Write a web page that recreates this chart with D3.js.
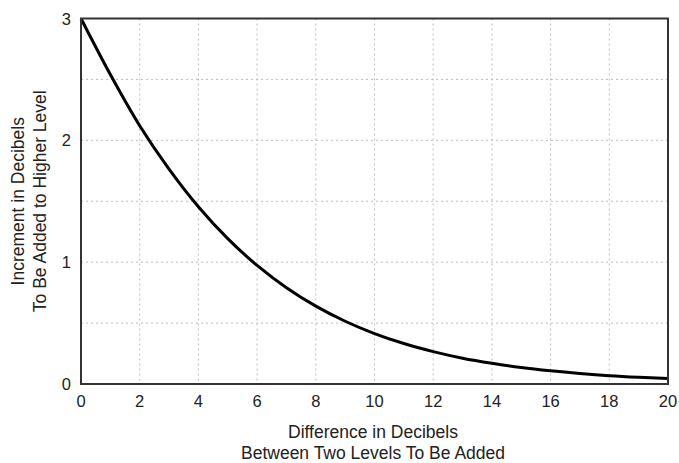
<!DOCTYPE html>
<html>
<head>
<meta charset="utf-8">
<script src="https://cdn.jsdelivr.net/npm/d3@7"></script>
<style>
  body { margin: 0; background: #fff; }
  text { font-family: "Liberation Sans", Arial, sans-serif; fill: #222; }
  .grid { stroke: #bdbdbd; stroke-width: 1; stroke-dasharray: 2,3; }
  .frame { fill: none; stroke: #333; stroke-width: 2; }
  .curve { fill: none; stroke: #000; stroke-width: 3; }
</style>
</head>
<body>
<svg id="chart" width="679" height="463"></svg>
<script>
// level difference in dB (x) and increment to add to higher level (y)
const diffDb = [0, 1, 2, 3, 4, 5, 6, 7, 8, 9, 10, 11, 12, 13, 14, 15, 16, 17, 18, 19, 20]
const incrementDb = [3.0, 2.54, 2.12, 1.764, 1.455, 1.193, 0.973, 0.79, 0.639, 0.515, 0.414, 0.332, 0.266, 0.212, 0.17, 0.135, 0.108, 0.086, 0.068, 0.055, 0.045]

const xTicks = [0, 2, 4, 6, 8, 10, 12, 14, 16, 18, 20]
const yTicks = [0, 1, 2, 3]
const yGrid = [0.5, 1, 1.5, 2, 2.5]

const xTitle = ['Difference in Decibels', 'Between Two Levels To Be Added']
const yTitle = ['Increment in Decibels', 'To Be Added to Higher Level']

const plotLeft = 81, plotRight = 668, plotTop = 18.5, plotBottom = 384

const xScale = d3.scaleLinear().domain([0, 20]).range([plotLeft, plotRight])
const yScale = d3.scaleLinear().domain([0, 3]).range([plotBottom, plotTop])

const svg = d3.select('#chart')

// grid
svg.selectAll('.gx')
    .data(xTicks.slice(1, -1))
    .enter()
    .append('line')
    .classed('grid', true)
    .attr('x1', d => xScale(d))
    .attr('x2', d => xScale(d))
    .attr('y1', plotTop)
    .attr('y2', plotBottom)

svg.selectAll('.gy')
    .data(yGrid)
    .enter()
    .append('line')
    .classed('grid', true)
    .attr('x1', plotLeft)
    .attr('x2', plotRight)
    .attr('y1', d => yScale(d))
    .attr('y2', d => yScale(d))

// tick labels
svg.selectAll('.labelX')
    .data(xTicks)
    .enter()
    .append('text')
    .attr('x', d => xScale(d))
    .attr('y', 407)
    .attr('text-anchor', 'middle')
    .style('font-size', '16.5px')
    .text(d => d)

svg.selectAll('.labelY')
    .data(yTicks)
    .enter()
    .append('text')
    .attr('x', 71)
    .attr('y', d => yScale(d) + 6)
    .attr('text-anchor', 'end')
    .style('font-size', '16.5px')
    .text(d => d)

// curve
const line = d3.line()
    .x((d, i) => xScale(diffDb[i]))
    .y(d => yScale(d))
    .curve(d3.curveCatmullRom)

svg.append('path')
    .datum(incrementDb)
    .classed('curve', true)
    .attr('d', line)

svg.append('rect')
    .classed('frame', true)
    .attr('x', plotLeft)
    .attr('y', plotTop)
    .attr('width', plotRight - plotLeft)
    .attr('height', plotBottom - plotTop)

// axis titles
svg.selectAll('.titleX')
    .data(xTitle)
    .enter()
    .append('text')
    .attr('x', 373)
    .attr('y', (d, i) => 438 + i * 21)
    .attr('text-anchor', 'middle')
    .style('font-size', '17.5px')
    .text(d => d)

svg.selectAll('.titleY')
    .data(yTitle)
    .enter()
    .append('text')
    .attr('transform', (d, i) => `translate(${24 + i * 22},${(plotTop + plotBottom) / 2}) rotate(-90)`)
    .attr('text-anchor', 'middle')
    .style('font-size', '17.5px')
    .text(d => d)
</script>
</body>
</html>
